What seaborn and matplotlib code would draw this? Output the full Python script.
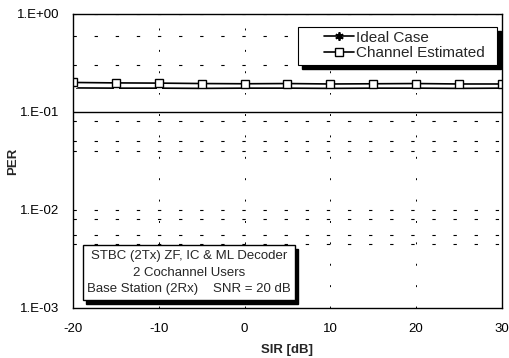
import numpy as np
import pandas as pd
import matplotlib
matplotlib.use("Agg")
import matplotlib.pyplot as plt
import seaborn as sns
from matplotlib.patches import Rectangle
from matplotlib.lines import Line2D
from matplotlib.ticker import FixedLocator, FuncFormatter, NullLocator

sir = [-20, -15, -10, -5, 0, 5, 10, 15, 20, 25, 30]
ideal = [0.176, 0.175, 0.175, 0.174, 0.175, 0.175, 0.174, 0.175, 0.175, 0.174, 0.175]
chan_est = [0.200, 0.198, 0.197, 0.195, 0.194, 0.195, 0.193, 0.194, 0.195, 0.193, 0.193]
series_names = ["Ideal Case", "Channel Estimated"]
yticks = [1e-3, 1e-2, 1e-1, 1e0]
xticks = [-20, -10, 0, 10, 20, 30]

sns.set_style("white")
plt.rcParams["font.family"] = ["Liberation Sans", "DejaVu Sans"]
plt.rcParams["axes.unicode_minus"] = False

fig = plt.figure(figsize=(5.09, 3.58), dpi=100)
ax = fig.add_axes([0.1434, 0.1397, 0.8426, 0.8213])

star = (6, 2, 0)
sns.lineplot(x=sir, y=ideal, color="black", marker=star, markersize=6,
             markeredgewidth=1.3, linewidth=1.2, ax=ax)
sns.lineplot(x=sir, y=chan_est, color="black", marker="s", markersize=6,
             markerfacecolor="white", markeredgecolor="black", markeredgewidth=1.0,
             linewidth=1.2, ax=ax)

ax.set_yscale("log")
ax.set_ylim(1e-3, 1e0)
ax.set_xlim(-20, 30)

# gridlines
for y in [1e0, 1e-2, 0.6, 0.3, 0.08, 0.05, 0.04, 0.008, 0.0055, 0.0045]:
    ax.axhline(y, color="black", lw=0.8, ls=(0, (3, 16)), zorder=0)
ax.axhline(1e-1, color="black", lw=1.0, zorder=0)
for x in [-10, 0, 10, 20]:
    ax.axvline(x, color="black", lw=0.7, ls=(0, (2, 20)), zorder=0)

ax.yaxis.set_major_locator(FixedLocator(yticks))
ax.yaxis.set_minor_locator(NullLocator())
ax.yaxis.set_major_formatter(FuncFormatter(lambda v, p: "1.E%+03d" % int(round(np.log10(v)))))
ax.set_xticks(xticks)
ax.tick_params(axis="both", labelsize=9.5, direction="in", length=3, width=0.8, colors="black")
ax.tick_params(axis="x", pad=11)
ax.tick_params(axis="y", pad=10)

for s in ax.spines.values():
    s.set_color("black")
    s.set_linewidth(1.0)

ax.set_xlabel("SIR [dB]", fontsize=9.5, fontweight="bold", labelpad=6)
ax.set_ylabel("PER", fontsize=9.5, fontweight="bold", labelpad=4)
ax.yaxis.set_label_coords(-0.125, 0.5)

# legend box with shadow
lx0, ly0, lw_, lh = 0.524, 0.827, 0.464, 0.129
ax.add_patch(Rectangle((lx0 + 0.009, ly0 - 0.013), lw_, lh, transform=ax.transAxes,
                       facecolor="black", edgecolor="black", zorder=5))
ax.add_patch(Rectangle((lx0, ly0), lw_, lh, transform=ax.transAxes,
                       facecolor="white", edgecolor="black", lw=0.8, zorder=6))
handles = [
    Line2D([], [], color="black", lw=1.2, marker=star, markersize=6, markeredgewidth=1.3),
    Line2D([], [], color="black", lw=1.2, marker="s", markersize=6, markerfacecolor="white"),
]
leg = ax.legend(handles, series_names, loc="center left", bbox_to_anchor=(0.585, 0.893),
                fontsize=11, frameon=False, borderpad=0, handlelength=2.0,
                handletextpad=0.1, labelspacing=0.1, borderaxespad=0)
leg.set_zorder(7)

# annotation box with shadow
bx0, by0, bw, bh = 0.023, 0.027, 0.494, 0.187
ax.add_patch(Rectangle((bx0 + 0.008, by0 - 0.012), bw, bh, transform=ax.transAxes,
                       facecolor="black", edgecolor="black", zorder=5))
ax.add_patch(Rectangle((bx0, by0), bw, bh, transform=ax.transAxes,
                       facecolor="white", edgecolor="black", lw=1.0, zorder=6))
ax.text(bx0 + bw / 2, by0 + bh * 0.80, "STBC (2Tx) ZF, IC & ML Decoder", transform=ax.transAxes,
        ha="center", va="center", fontsize=9.5, zorder=7)
ax.text(bx0 + bw / 2, by0 + bh * 0.50, "2 Cochannel Users", transform=ax.transAxes,
        ha="center", va="center", fontsize=9.5, zorder=7)
ax.text(bx0 + 0.010, by0 + bh * 0.20, "Base Station (2Rx)", transform=ax.transAxes,
        ha="left", va="center", fontsize=9.5, zorder=7)
ax.text(bx0 + bw - 0.010, by0 + bh * 0.20, "SNR = 20 dB", transform=ax.transAxes,
        ha="right", va="center", fontsize=9.5, zorder=7)

fig.savefig("out.png", dpi=100)
